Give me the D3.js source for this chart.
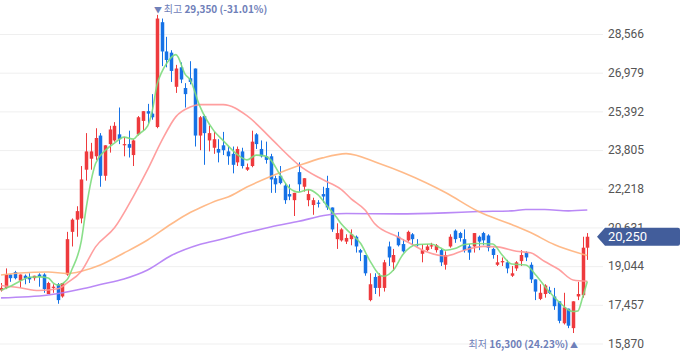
<!DOCTYPE html>
<html><head><meta charset="utf-8">
<script src="https://cdn.jsdelivr.net/npm/d3@7"></script>
<style>html,body{margin:0;padding:0;background:#fff;}svg{display:block;}</style>
</head><body>
<svg id="c" width="680" height="358"></svg>
<script>
// ---- data ----
const open  = [18050,18150,18700,18800,18450,18650,18600,18550,18700,18700,17900,18150,18300,17800,18700,20450,20950,21000,23000,23450,23550,24400,22750,24050,24200,24450,24000,24050,23600,24450,25000,25400,25300,24750,29050,27850,27800,26400,27200,26350,26750,27150,24400,25200,24200,23900,23850,24000,23750,23650,23300,23750,23000,23150,24450,23850,23550,23550,22650,22750,22350,22000,21750,22900,22300,21750,21550,21650,22000,22250,21450,20150,20100,20050,20150,20250,19700,19500,17650,18600,18150,18150,19850,19200,20250,19950,20100,20350,19950,19550,19700,19850,19700,19700,19100,19850,20500,20400,20150,19850,19850,20250,20400,20300,19750,19100,19200,19200,18650,18950,19250,19600,19100,18500,17700,17900,18050,17800,17600,16700,17300,16500,17800,17850,19800];
const high  = [18350,18950,18700,18850,18700,18700,18750,18650,18750,18750,18400,18300,18350,18350,20450,21000,21500,23150,24500,24100,24700,24500,24000,24800,24950,25550,24350,24600,24250,25200,25400,25700,26100,29350,29200,28450,27900,27300,27400,26550,27450,27150,25200,25250,24800,24550,24250,24550,23950,23950,23950,23900,23250,24600,24500,24200,24150,23650,22750,23150,22450,22400,22050,23300,22650,22200,21850,21750,22300,22750,21450,20800,20600,20350,20550,20300,19750,19500,18750,18750,18750,19300,20050,19750,20450,20150,20500,20400,20150,19950,19950,20000,19950,19750,19650,20350,20550,20450,20550,19950,20400,20300,20450,20350,19800,19500,19400,19300,19050,19250,19700,19650,19200,18500,18300,18300,18200,18150,17600,17950,17300,17600,18400,20250,20400];
const low   = [18000,18100,18400,18500,18150,18300,18350,18450,18200,17950,17900,17950,17500,17750,18650,19850,20250,20800,22550,23000,23400,22300,22550,23700,24150,24050,23550,23500,23150,24400,24600,24900,25050,24700,27250,27200,26600,26150,26550,25550,26500,23950,23800,23200,23750,23650,23300,23600,23200,22850,23150,23050,22950,23100,23850,23500,23250,22050,22050,22400,21600,21750,21100,22100,22100,21500,21150,21450,21650,21350,20450,19750,20050,19950,19900,19600,19250,18650,17600,17900,17800,18000,19050,18850,19850,19600,20050,19900,19850,19200,19650,19750,19600,19050,18900,19800,20000,20050,19600,19300,19600,19700,19900,19650,19350,19050,19050,18750,18600,18850,19050,19250,18350,17650,17650,17750,17900,17250,16700,16650,16500,16300,17650,17750,19300];
const close = [18150,18700,18550,18550,18700,18550,18500,18650,18600,18100,18350,18200,17650,18350,20150,20950,21300,22600,23750,23750,24300,22750,24000,24650,24800,24250,24050,23900,24200,25150,25400,25300,25150,29200,27850,27500,27050,27150,26700,26100,26600,24400,25150,24500,24500,24250,23700,23800,23550,23200,23850,23150,23100,24150,24050,23550,23400,22600,22400,22450,21750,21900,22050,22400,22650,22000,21750,21600,21900,21450,20550,20400,20550,20200,20350,19850,19600,18750,18300,18150,18650,19200,19400,19500,19900,19650,20450,20150,19900,19700,19850,19900,19900,19200,19500,20250,20150,20200,19700,19600,20400,20050,20100,19800,19500,19200,19250,18950,18750,19200,19500,19400,18500,18000,17950,18250,17950,17400,16800,17350,16600,17600,17900,19800,20250];

// moving-average lines, sampled at candle indices
const ma5Idx  = [0,2,4,6,8,10,11,12,14,15,17,18,20,22,24,26,28,29,31,32,33,34,35,37,39,40,42,45,47,50,52,54,56,57,59,61,63,65,67,69,71,72,74,76,78,80,81,83,85,88,91,93,94,96,98,101,104,106,108,111,113,116,119,120,121,122,123,124];
const ma5Val  = [18055,18219,18424,18588,18605,18556,18359,18269,18494,18904,20093,21405,23250,23783,24090,24336,24254,24439,24787,25423,26489,27001,27350,27719,26899,26694,25628,24603,24193,23619,23402,23598,23557,23414,22799,22245,22081,22184,21979,21507,21036,20769,20380,19990,19273,18699,18629,18883,19519,19929,19949,19785,19695,19765,19929,19970,19949,19498,19129,19089,18699,17981,17399,17243,17182,17202,17756,18412];
const ma20Idx = [0,4,8,12,14,17,20,24,28,31,34,37,40,42,47,52,57,61,63,67,70,72,74,77,79,84,87,90,94,98,102,105,109,112,115,118,121,124];
const ma20Val = [18248,18154,18043,18113,18359,18834,19835,20614,21909,23004,24193,25177,25567,25669,25669,25218,24304,23537,23189,22697,22410,22184,21815,21344,20790,20237,19929,19630,19458,19695,19855,19835,19654,19589,19232,18904,18474,18424];
const ma60Idx = [0,4,10,14,17,21,26,31,36,40,42,46,48,52,57,63,68,73,80,85,90,94,101,108,112,117,122,124];
const ma60Val = [18680,18760,18800,18740,18834,19089,19580,20114,20770,21241,21426,21754,21877,22287,22717,23168,23484,23660,23250,22881,22451,22061,21282,20749,20421,19929,19589,19478];
const ma120Idx = [0,10,17,21,26,31,36,42,47,52,57,63,69,73,84,94,101,108,111,115,120,124];
const ma120Val = [17740,17859,18105,18289,18515,18884,19478,19929,20163,20421,20647,20884,21139,21200,21188,21229,21282,21311,21364,21364,21311,21344];

const yTicks = [15870,17457,19044,20631,22218,23805,25392,26979,28566];
const maxWord = "최고", maxText = "29,350 (-31.01%)";
const minWord = "최저", minText = "16,300 (24.23%)";
const lastLabel = "20,250";

// ---- drawing ----
const svg = d3.select('#c');
const n = open.length;
const x = d3.scaleLinear().domain([0, n - 1]).range([1, 587.3]);
const y = d3.scaleLinear().domain([15870, 28566]).range([343.5, 34]);

const ax = d3.axisRight(y).tickValues(yTicks).tickFormat(d3.format(',')).tickSize(-603).tickPadding(5);
const ag = svg.append('g').attr('transform', 'translate(603,0)').call(ax);
ag.select('.domain').remove();
ag.selectAll('.tick line').attr('stroke', '#efefef');
ag.selectAll('.tick text').attr('fill', '#555').style('font-family', 'Roboto, sans-serif').style('font-size', '12px');

const UP = '#ee3a3d', DOWN = '#1672e6';
const cg = svg.append('g');
d3.range(n).forEach(i => {
  const cx = Math.round(x(i)) + 0.5;
  const col = close[i] >= open[i] ? UP : DOWN;
  cg.append('line').attr('x1', cx).attr('x2', cx)
    .attr('y1', y(high[i])).attr('y2', y(low[i]))
    .attr('stroke', col).attr('stroke-width', 1);
  const top = y(Math.max(open[i], close[i])), bot = y(Math.min(open[i], close[i]));
  cg.append('rect').attr('x', cx - 1.75).attr('width', 3.5)
    .attr('y', top).attr('height', Math.max(1, bot - top)).attr('fill', col);
});

const line = d3.line().x(d => x(d[0])).y(d => y(d[1])).curve(d3.curveMonotoneX);
const mas = [
  [ma120Idx, ma120Val, '#b37cf5'],
  [ma60Idx, ma60Val, '#ffb27c'],
  [ma20Idx, ma20Val, '#ff9595'],
  [ma5Idx, ma5Val, '#7ddc7d']
];
mas.forEach(([ix, vals, col]) => {
  svg.append('path').datum(ix.map((d, k) => [d, vals[k]]))
    .attr('d', line).attr('fill', 'none').attr('stroke', col)
    .attr('stroke-width', 1.6).attr('stroke-opacity', 0.9);
});

// max / min annotations
const iMax = d3.maxIndex(high), iMin = d3.minIndex(low);
const annFont = '"Noto Sans CJK KR", sans-serif';
const tMax = svg.append('text').attr('x', x(iMax) - 3).attr('y', 12.5)
  .attr('fill', '#6f80b9').style('font-family', annFont).style('font-size', '10px');
tMax.append('tspan').style('font-size', '8px').text('▼ ');
tMax.append('tspan').text(maxWord + ' ');
tMax.append('tspan').style('font-weight', 'bold').text(maxText);

const tMin = svg.append('text').attr('x', x(iMin) + 5).attr('y', 347.5).attr('text-anchor', 'end')
  .attr('fill', '#6f80b9').style('font-family', annFont).style('font-size', '10px');
tMin.append('tspan').text(minWord + ' ');
tMin.append('tspan').style('font-weight', 'bold').text(minText);
tMin.append('tspan').style('font-size', '8px').text(' ▲');

// last price tag
const yl = y(close[n - 1]);
svg.append('path')
  .attr('d', `M597,${yl} L605,${yl - 9} L678,${yl - 9} Q680,${yl - 9} 680,${yl - 7} L680,${yl + 7} Q680,${yl + 9} 678,${yl + 9} L605,${yl + 9} Z`)
  .attr('fill', '#425d9b');
svg.append('text').attr('x', 608).attr('y', yl).attr('dy', '0.36em')
  .attr('fill', '#fff').style('font-family', 'Roboto, sans-serif').style('font-size', '13px')
  .text(lastLabel);
</script>
</body></html>
